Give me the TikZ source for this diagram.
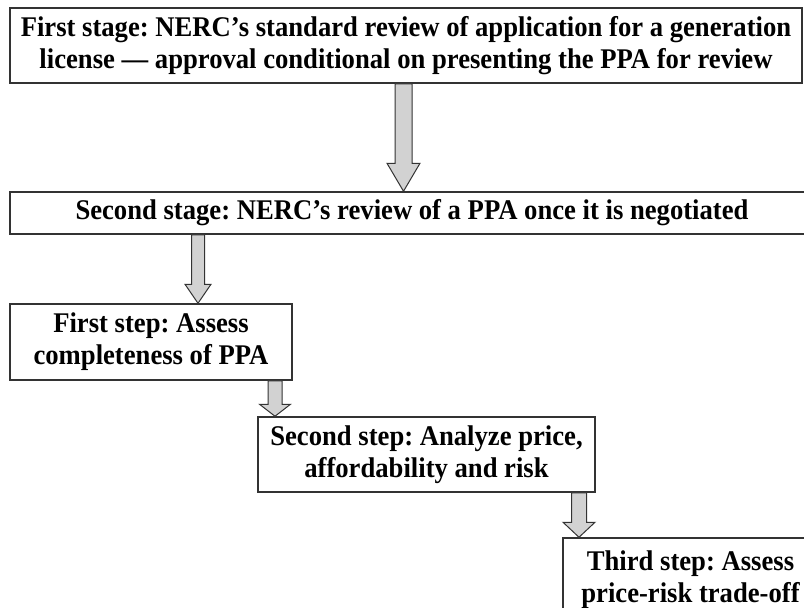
\documentclass[tikz,border=0pt]{standalone}
\usepackage{fontspec}
\setmainfont{Liberation Serif}[FakeStretch=0.935]
\usetikzlibrary{calc}
\frenchspacing
\definecolor{boxline}{HTML}{333333}
\definecolor{arrfill}{HTML}{D2D2D2}
\tikzset{
  stagebox/.style={draw=boxline, line width=1.5pt, fill=white, align=center, inner sep=0pt,
    font=\bfseries\fontsize{28.5}{32}\selectfont},
  blockarrow/.style={draw=boxline, line width=1pt, fill=arrfill, line join=miter}
}
\newcommand{\blockarr}[5]{%
  \draw[blockarrow] ($(#1)+(-#3,0)$) -- ($(#2)+(-#3,#5)$) -- ($(#2)+(-#4,#5)$) -- (#2)
    -- ($(#2)+(#4,#5)$) -- ($(#2)+(#3,#5)$) -- ($(#1)+(#3,0)$) -- cycle;}
\begin{document}
\begin{tikzpicture}[x=1pt,y=1pt]
  \useasboundingbox (0,0) rectangle (804,-608);
  \clip (0,0) rectangle (804,-608);
  \fill[white] (0,0) rectangle (804,-608);

  \node[stagebox, minimum width=792, minimum height=75] (b1) at (406,-45.5)
    {First stage: NERC’s standard review of application for a generation\\
     license — approval conditional on presenting the PPA for review};
  \node[stagebox, minimum width=804, minimum height=42] (b2) at (412,-213)
    {Second stage: NERC’s review of a PPA once it is negotiated};
  \node[stagebox, minimum width=282, minimum height=76] (b3) at (151,-342)
    {First step: Assess\\ completeness of PPA};
  \node[stagebox, minimum width=337, minimum height=75] (b4) at (426.5,-454.5)
    {Second step: Analyze price,\\ affordability and risk};
  \node[stagebox, minimum width=255, minimum height=84] (b5) at (690.5,-580)
    {Third step: Assess\\ price-risk trade-off};

  \coordinate (x1) at (403.5,0);
  \coordinate (x2) at (198,0);
  \coordinate (x3) at (275,0);
  \coordinate (x4) at (579,0);

  \coordinate (a1s) at (b1.south -| x1);
  \coordinate (a1e) at (b2.north -| x1);
  \coordinate (a2s) at (b2.south -| x2);
  \coordinate (a2e) at (b3.north -| x2);
  \coordinate (a3s) at (b3.south -| x3);
  \coordinate (a3e) at (b4.north -| x3);
  \coordinate (a4s) at (b4.south -| x4);
  \coordinate (a4e) at (b5.north -| x4);

  \blockarr{a1s}{a1e}{8.5}{16.5}{28}
  \blockarr{a2s}{a2e}{6.5}{13}{19}
  \blockarr{a3s}{a3e}{7}{15.5}{12}
  \blockarr{a4s}{a4e}{7.5}{16}{15}
\end{tikzpicture}
\end{document}
